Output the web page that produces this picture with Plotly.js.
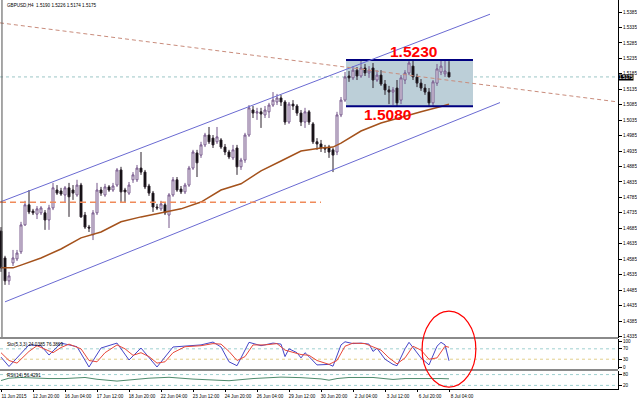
<!DOCTYPE html>
<html>
<head>
<meta charset="utf-8">
<script src="https://cdn.plot.ly/plotly-3.0.1.min.js"></script>
<style>html,body{margin:0;padding:0;background:#fff;}#chart{width:637px;height:399px;}</style>
</head>
<body>
<div id="chart"></div>
<script>
// ---- Data (GBPUSD, H4) ----
const symbolTitle = "GBPUSD,H4  1.5190 1.5226 1.5174 1.5175";
const open = [1.4676,1.4589,1.4515,1.4573,1.4586,1.4609,1.4696,1.4761,1.4741,1.4731,
1.4735,1.4735,1.4712,1.4751,1.4809,1.4806,1.4793,1.4816,1.4809,1.4793,
1.4825,1.4728,1.4689,1.4664,1.4735,1.4809,1.4793,1.4819,1.4809,1.4825,
1.4874,1.4809,1.4799,1.4842,1.4842,1.4880,1.4867,1.4822,1.4799,1.4754,
1.4748,1.4761,1.4728,1.4793,1.4842,1.4812,1.4803,1.4825,1.4880,1.4929,
1.4922,1.4955,1.4987,1.4977,1.4965,1.4971,1.4948,1.4932,1.4913,1.4945,
1.4884,1.4906,1.4987,1.5068,1.5058,1.5062,1.5052,1.5062,1.5084,1.5094,
1.5107,1.5094,1.5029,1.5087,1.5081,1.5058,1.5029,1.5062,1.5023,1.4965,
1.4958,1.4945,1.4948,1.4939,1.4932,1.5052,1.5100,1.5178,1.5172,1.5197,
1.5178,1.5204,1.5188,1.5204,1.5165,1.5181,1.5152,1.5133,1.5126,1.5139,
1.5100,1.5165,1.5188,1.5210,1.5175,1.5155,1.5139,1.5126,1.5091,1.5155,
1.5191,1.5185,1.5190];
const high = [1.4689,1.4596,1.4544,1.4615,1.4615,1.4706,1.4774,1.4809,1.4748,1.4757,
1.4757,1.4744,1.4761,1.4832,1.4825,1.4816,1.4822,1.4832,1.4825,1.4842,
1.4832,1.4738,1.4696,1.4744,1.4832,1.4819,1.4829,1.4825,1.4832,1.4880,
1.4884,1.4816,1.4835,1.4867,1.4890,1.4932,1.4874,1.4829,1.4806,1.4764,
1.4774,1.4767,1.4799,1.4851,1.4851,1.4822,1.4832,1.4887,1.4939,1.4939,
1.4965,1.4994,1.5013,1.4987,1.5013,1.4977,1.4958,1.4939,1.4955,1.4955,
1.4913,1.4994,1.5084,1.5081,1.5075,1.5075,1.5081,1.5091,1.5126,1.5120,
1.5117,1.5100,1.5094,1.5100,1.5087,1.5068,1.5075,1.5068,1.5029,1.4977,
1.4971,1.4955,1.4955,1.4945,1.5062,1.5110,1.5191,1.5194,1.5210,1.5207,
1.5230,1.5217,1.5210,1.5220,1.5197,1.5197,1.5165,1.5146,1.5142,1.5165,
1.5181,1.5197,1.5230,1.5230,1.5185,1.5168,1.5152,1.5139,1.5165,1.5217,
1.5230,1.5227,1.5226];
const low = [1.4544,1.4502,1.4502,1.4563,1.4579,1.4602,1.4693,1.4731,1.4728,1.4715,
1.4728,1.4680,1.4680,1.4744,1.4793,1.4790,1.4767,1.4722,1.4777,1.4787,
1.4719,1.4683,1.4673,1.4647,1.4728,1.4790,1.4787,1.4803,1.4803,1.4819,
1.4770,1.4767,1.4793,1.4832,1.4835,1.4858,1.4812,1.4790,1.4738,1.4744,
1.4741,1.4728,1.4686,1.4787,1.4803,1.4796,1.4796,1.4819,1.4874,1.4851,
1.4913,1.4948,1.4958,1.4945,1.4958,1.4942,1.4922,1.4909,1.4906,1.4858,
1.4874,1.4897,1.4981,1.5042,1.5036,1.5010,1.5042,1.5042,1.5078,1.5084,
1.5081,1.5020,1.5023,1.5068,1.5049,1.5016,1.5010,1.5020,1.4958,1.4939,
1.4932,1.4929,1.4913,1.4867,1.4922,1.5045,1.5094,1.5159,1.5165,1.5165,
1.5172,1.5178,1.5172,1.5139,1.5159,1.5146,1.5117,1.5087,1.5084,1.5081,
1.5087,1.5152,1.5181,1.5165,1.5142,1.5130,1.5117,1.5081,1.5081,1.5146,
1.5181,1.5175,1.5174];
const close = [1.4557,1.4515,1.4531,1.4589,1.4605,1.4696,1.4761,1.4738,1.4735,1.4748,
1.4751,1.4712,1.4751,1.4816,1.4799,1.4796,1.4816,1.4787,1.4799,1.4825,
1.4722,1.4689,1.4686,1.4735,1.4809,1.4799,1.4819,1.4809,1.4822,1.4874,
1.4803,1.4803,1.4825,1.4858,1.4880,1.4867,1.4819,1.4799,1.4754,1.4751,
1.4764,1.4735,1.4793,1.4842,1.4809,1.4803,1.4825,1.4880,1.4932,1.4897,
1.4955,1.4987,1.4965,1.4955,1.4981,1.4948,1.4932,1.4916,1.4939,1.4884,
1.4906,1.4987,1.5075,1.5058,1.5062,1.5055,1.5068,1.5084,1.5100,1.5107,
1.5094,1.5029,1.5087,1.5081,1.5058,1.5029,1.5062,1.5029,1.4965,1.4958,
1.4945,1.4942,1.4932,1.4922,1.5052,1.5100,1.5175,1.5172,1.5197,1.5178,
1.5204,1.5188,1.5197,1.5165,1.5181,1.5152,1.5133,1.5126,1.5133,1.5091,
1.5172,1.5188,1.5220,1.5175,1.5155,1.5139,1.5126,1.5091,1.5159,1.5201,
1.5210,1.5194,1.5175];

// Moving average (read at selected bars)
const maBars = [0,3,5,10,15,20,25,30,35,40,45,50,55,60,65,70,75,80,83,85,90,95,100,105,110,112];
const maValues = [1.4557,1.4557,1.4566,1.4589,1.4618,1.4654,1.4673,1.4706,1.4722,1.4736,1.4748,1.4770,1.4809,1.4829,1.4871,1.4903,1.4935,1.4945,1.4948,1.4961,1.5000,1.5026,1.5045,1.5062,1.5079,1.5087];

// Stochastic (5,3,3)
const stochMainBars = [0,2,7,10,12,15,19,22,25,29,32,35,39,43,50,53,55,57,59,62,65,68,70,71,72,74,75,76,77,79,82,83,85,86,88,90,92,93,94,96,98,99,101,102,103,105,107,109,110,111,112];
const stochMain = [38,2,85,82,46,92,78,0,73,92,27,73,0,77,85,96,77,20,5,95,82,92,88,40,70,55,35,55,40,8,10,3,85,97,90,92,88,60,72,30,10,5,70,95,75,35,8,80,95,85,24];
const stochSignalBars = [0,2,4,7,9,11,13,15,17,20,22,24,26,29,31,33,35,37,39,41,43,46,50,53,55,57,59,61,63,66,69,71,73,75,77,79,82,84,86,88,91,93,95,97,99,101,103,105,107,109,110,111,112];
const stochSignal = [55,25,15,60,82,70,55,75,88,70,25,20,55,85,70,45,55,40,15,20,55,78,82,90,88,60,25,40,85,85,90,65,55,48,45,25,10,25,80,92,90,78,65,35,12,35,80,65,30,35,60,80,76];
const stochLevels = [30,70];
const stochLabel = "Sto(5,3,3) 24.0385 76.3869";

// RSI(14)
const rsiBars = [0,2,5,9,12,16,21,24,29,37,42,48,52,57,63,70,75,80,82,84,87,93,98,101,106,108,110,112];
const rsiValues = [47,60,64,60,58,58,64,54,44,60,65,55,50,46,58,66,63,56,49,58,64,64,53,58,58,56,58,56.4];
const rsiLevels = [20,80];
const rsiLabel = "RSI(14) 56.4291";

// Axis ticks
const timeTickBars = [0,8,16,24,32,40,48,56,64,72,80,88,96,104,112];
const timeTickLabels = ["11 Jun 2015","12 Jun 20:00","16 Jun 04:00","17 Jun 12:00","18 Jun 20:00","22 Jun 04:00","23 Jun 12:00","24 Jun 20:00","26 Jun 04:00","29 Jun 12:00","30 Jun 20:00","2 Jul 04:00","3 Jul 12:00","6 Jul 20:00","8 Jul 04:00"];
const priceTicks = [1.4335,1.4385,1.4435,1.4485,1.4535,1.4585,1.4635,1.4685,1.4735,1.4785,1.4835,1.4885,1.4935,1.4985,1.5035,1.5085,1.5135,1.5185,1.5235,1.5285,1.5335,1.5385];

// Drawn objects (anchors in bar index / price)
const upperChannel = {bars:[-0.25,122.25], prices:[1.4770,1.5378]};
const lowerChannel = {bars:[1,124.75], prices:[1.4447,1.5092]};
const supportLevel = {bars:[-0.25,80], price:1.4769};
const slopeLine = {bars:[-0.25,154.25], prices:[1.5350,1.5094]};
const rangeBox = {bars:[86.25,118], top:1.5230, bottom:1.5080};
const rangeTopLabel = {bar:103, price:1.5257, text:"1.5230"};
const rangeBottomLabel = {bar:96.5, price:1.5054, text:"1.5080"};
const bidPrice = 1.5175;

// ---- Build ----
const barIndex = open.map((_, i) => i);
const xRange = [-0.25, 154.25];
const tiny = {family:'Arial, "Liberation Sans", sans-serif', size:4.6, color:'#000'};

const traces = [
  {type:'candlestick', x:barIndex, open:open, high:high, low:low, close:close,
   xaxis:'x', yaxis:'y', whiskerwidth:0, hoverinfo:'skip',
   increasing:{line:{color:'#75568a', width:1}, fillcolor:'#ffffff'},
   decreasing:{line:{color:'#2a202a', width:1}, fillcolor:'#000000'}},
  {type:'scatter', mode:'lines', x:maBars, y:maValues, xaxis:'x', yaxis:'y',
   line:{color:'#a4521c', width:1.5}, hoverinfo:'skip'},
  {type:'scatter', mode:'lines', x:stochMainBars, y:stochMain, xaxis:'x', yaxis:'y2',
   line:{color:'#4646c8', width:1}, hoverinfo:'skip'},
  {type:'scatter', mode:'lines', x:stochSignalBars, y:stochSignal, xaxis:'x', yaxis:'y2',
   line:{color:'#e8483a', width:1}, hoverinfo:'skip'},
  {type:'scatter', mode:'lines', x:rsiBars, y:rsiValues, xaxis:'x', yaxis:'y3',
   line:{color:'#4d8a6c', width:1}, hoverinfo:'skip'}
];

// panel geometry (paper fractions of a 389 px tall plot area)
const mainBottom = 0.1311, sepStochRsi = 0.0488;

const shapes = [
  {type:'rect', xref:'x', yref:'y', x0:rangeBox.bars[0], x1:rangeBox.bars[1], y0:rangeBox.bottom, y1:rangeBox.top,
   fillcolor:'#bccfd8', line:{width:0}, layer:'below'},
  {type:'line', xref:'x', yref:'y', x0:rangeBox.bars[0], x1:rangeBox.bars[1], y0:rangeBox.top, y1:rangeBox.top, line:{color:'#000080', width:2}},
  {type:'line', xref:'x', yref:'y', x0:rangeBox.bars[0], x1:rangeBox.bars[1], y0:rangeBox.bottom, y1:rangeBox.bottom, line:{color:'#000080', width:2}},
  {type:'line', xref:'paper', yref:'y', x0:0, x1:1, y0:bidPrice, y1:bidPrice, line:{color:'#9cc6c6', width:1, dash:'dot'}, layer:'below'},
  {type:'line', xref:'x', yref:'y', x0:upperChannel.bars[0], x1:upperChannel.bars[1], y0:upperChannel.prices[0], y1:upperChannel.prices[1], line:{color:'#6a6ad2', width:1}},
  {type:'line', xref:'x', yref:'y', x0:lowerChannel.bars[0], x1:lowerChannel.bars[1], y0:lowerChannel.prices[0], y1:lowerChannel.prices[1], line:{color:'#6a6ad2', width:1}},
  {type:'line', xref:'x', yref:'y', x0:supportLevel.bars[0], x1:supportLevel.bars[1], y0:supportLevel.price, y1:supportLevel.price, line:{color:'#ef8a5a', width:1.5, dash:'6px,4px'}},
  {type:'line', xref:'x', yref:'y', x0:slopeLine.bars[0], x1:slopeLine.bars[1], y0:slopeLine.prices[0], y1:slopeLine.prices[1], line:{color:'#c98c7c', width:1, dash:'4px,3px'}},
  // left border line
  {type:'line', xref:'paper', yref:'paper', x0:0.0032, x1:0.0032, y0:mainBottom, y1:1, line:{color:'#505050', width:1}},
  // panel separators
  {type:'line', xref:'paper', yref:'paper', x0:0, x1:1, y0:mainBottom, y1:mainBottom, line:{color:'#8a8a8a', width:2}},
  {type:'line', xref:'paper', yref:'paper', x0:0, x1:1, y0:sepStochRsi, y1:sepStochRsi, line:{color:'#8a8a8a', width:2}},
  // red circle
  {type:'circle', xref:'paper', yref:'paper', x0:0.683, x1:0.770, y0:0.005, y1:0.2, line:{color:'#ff0000', width:1.2}}
];
stochLevels.forEach((v,k) => shapes.push({type:'line', xref:'paper', yref:'y2', x0:0, x1:1, y0:v, y1:v,
  line:{color: k===0 ? '#e2cf8c' : '#9fd0d0', width:1, dash:'dot'}, layer:'below'}));
rsiLevels.forEach(v => shapes.push({type:'line', xref:'paper', yref:'y3', x0:0, x1:1, y0:v, y1:v,
  line:{color:'#9fd0d0', width:1, dash:'dot'}, layer:'below'}));

const annotations = [
  {xref:'paper', yref:'paper', x:0.008, y:0.997, xanchor:'left', yanchor:'top', text:symbolTitle, showarrow:false, font:tiny},
  {xref:'paper', yref:'paper', x:0.008, y:0.126, xanchor:'left', yanchor:'top', text:stochLabel, showarrow:false, font:tiny},
  {xref:'paper', yref:'paper', x:0.008, y:0.045, xanchor:'left', yanchor:'top', text:rsiLabel, showarrow:false, font:tiny},
  {xref:'x', yref:'y', x:rangeTopLabel.bar, y:rangeTopLabel.price, text:rangeTopLabel.text, showarrow:false,
   font:{family:'Arial, "Liberation Sans", sans-serif', size:15.5, color:'#ff0000', weight:'bold'}},
  {xref:'x', yref:'y', x:rangeBottomLabel.bar, y:rangeBottomLabel.price, text:rangeBottomLabel.text, showarrow:false,
   font:{family:'Arial, "Liberation Sans", sans-serif', size:15.5, color:'#ff0000', weight:'bold'}},
  {xref:'paper', yref:'y', x:1, y:bidPrice, xanchor:'left', yanchor:'middle', yshift:-1, text:bidPrice.toFixed(4), showarrow:false,
   bgcolor:'#000000', borderpad:0, font:{family:'Arial, "Liberation Sans", sans-serif', size:4.6, color:'#ffffff'}}
];

const rightAxis = {side:'right', ticks:'outside', ticklen:3, tickcolor:'#000', showline:true, linecolor:'#000', linewidth:1,
  showgrid:false, zeroline:false, tickfont:tiny, fixedrange:true};

const layout = {
  width:637, height:399,
  margin:{l:0, r:19, t:0, b:10},
  paper_bgcolor:'#ffffff', plot_bgcolor:'#ffffff',
  showlegend:false,
  xaxis:{range:xRange, anchor:'y3', tickmode:'array', tickvals:timeTickBars, ticktext:timeTickLabels,
    ticks:'outside', ticklen:2, tickcolor:'#000', showline:true, linecolor:'#000', showgrid:false, zeroline:false,
    tickfont:tiny, ticklabelshift:13, ticklabelstandoff:0, rangeslider:{visible:false}, fixedrange:true},
  yaxis:Object.assign({}, rightAxis, {domain:[mainBottom,1], range:[1.4330,1.5424], anchor:'x',
    tickmode:'array', tickvals:priceTicks, ticktext:priceTicks.map(v => v.toFixed(4))}),
  yaxis2:Object.assign({}, rightAxis, {domain:[0.0514,0.1285], range:[-7.7,107.7], anchor:'x',
    tickmode:'array', tickvals:[0,30,70,100], ticktext:['0','30','70','100']}),
  yaxis3:Object.assign({}, rightAxis, {domain:[0,0.0463], range:[0,100], anchor:'x',
    tickmode:'array', tickvals:rsiLevels, ticktext:rsiLevels.map(String)}),
  shapes:shapes,
  annotations:annotations
};

Plotly.newPlot('chart', traces, layout, {displayModeBar:false, staticPlot:true});
</script>
</body>
</html>
